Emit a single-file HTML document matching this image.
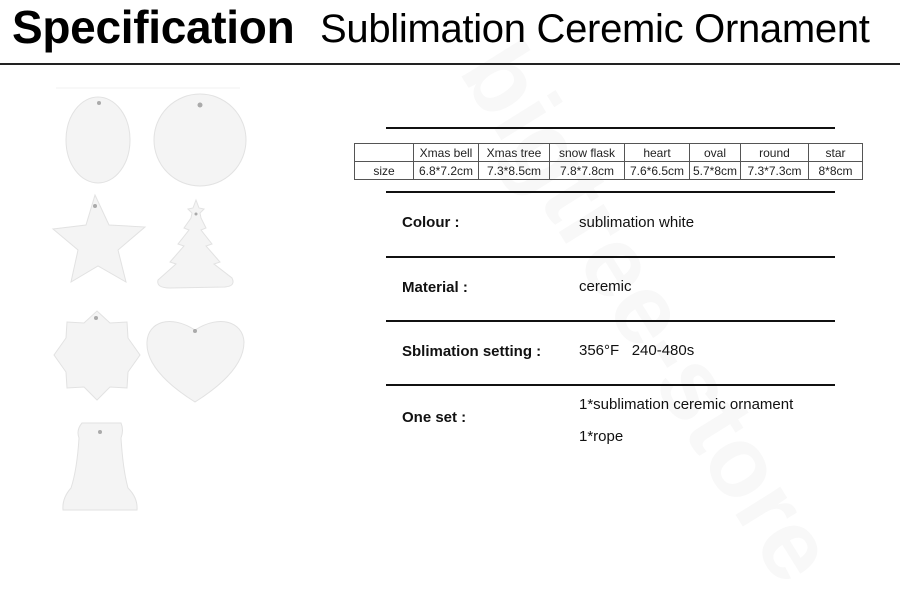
<!DOCTYPE html>
<html><head><meta charset="utf-8"><style>
body{margin:0;width:900px;height:610px;background:#fff;overflow:hidden;position:relative;font-family:"Liberation Sans",sans-serif}
.a{position:absolute;white-space:nowrap}
.t{font-size:15px;color:#111}
.b{font-weight:bold}
table{position:absolute;left:354px;top:143px;border-collapse:collapse;font-size:12px;color:#222}
td{border:1px solid #555;height:17px;padding:0;text-align:center}
.hr{position:absolute;left:386px;width:449px;height:2px;background:#111}
</style></head><body>
<svg class="a" style="left:0;top:0" width="900" height="610">
<text x="620" y="330" transform="rotate(58 620 330)" text-anchor="middle" font-family="Liberation Sans" font-weight="bold" font-size="100" fill="#f8f8f8">bigtree-store</text>
<g fill="#f4f4f4" stroke="#e2e2e2" stroke-width="1">
<ellipse cx="98" cy="140" rx="32" ry="43"/>
<circle cx="200" cy="140" r="46"/>
<polygon points="95,195 109,225 145,227 118,250 126,282 98,266 71,282 78,250 53,229 86,225"/>
<path d="M196,200 L199,208 204,209 200,213 201,218 L206,228 201,230 L212,244 206,246 L220,262 214,264 L232,278 Q236,286 225,287 L170,288 Q156,288 158,280 L176,264 170,262 L184,246 178,244 L189,230 184,228 L191,218 192,213 188,209 193,208 Z"/>
<path d="M97,311 L110,323 127,322 128,338 140,355 128,372 127,388 110,387 97,400 84,387 67,388 66,372 54,355 66,338 67,322 84,323 Z"/>
<path d="M195,402 C160,380 146,360 147,342 C148,322 170,314 195,330 C220,314 243,322 244,342 C244,360 230,380 195,402 Z"/>
<path d="M82,423 L121,423 Q124,430 121,438 Q123,470 128,488 Q138,498 137,510 L63,510 Q62,498 71,488 Q77,470 79,438 Q76,430 82,423 Z"/>
</g>
<g fill="#aaa"><circle cx="99" cy="103" r="2"/><circle cx="200" cy="105" r="2.5"/><circle cx="95" cy="206" r="2"/><circle cx="196" cy="214" r="1.5"/><circle cx="96" cy="318" r="2"/><circle cx="195" cy="331" r="2"/><circle cx="100" cy="432" r="2"/></g>
<line x1="56" y1="88" x2="240" y2="88" stroke="#f0f0f0"/>
</svg>
<div class="a b" style="left:12px;top:0px;font-size:46px;letter-spacing:-0.3px">Specification</div>
<div class="a" style="left:320px;top:7px;font-size:40px;letter-spacing:-0.3px">Sublimation Ceremic Ornament</div>
<div class="a" style="left:0;top:63px;width:900px;height:2px;background:#222"></div>
<div class="hr" style="top:127px"></div>
<table>
<tr><td style="width:58px"></td><td style="width:64px">Xmas bell</td><td style="width:70px">Xmas tree</td><td style="width:74px">snow flask</td><td style="width:64px">heart</td><td style="width:50px">oval</td><td style="width:67px">round</td><td style="width:53px">star</td></tr>
<tr><td>size</td><td>6.8*7.2cm</td><td>7.3*8.5cm</td><td>7.8*7.8cm</td><td>7.6*6.5cm</td><td>5.7*8cm</td><td>7.3*7.3cm</td><td>8*8cm</td></tr>
</table>
<div class="hr" style="top:191px"></div>
<div class="hr" style="top:256px"></div>
<div class="hr" style="top:320px"></div>
<div class="hr" style="top:384px"></div>
<div class="a t b" style="left:402px;top:214px">Colour :</div>
<div class="a t" style="left:579px;top:214px">sublimation white</div>
<div class="a t b" style="left:402px;top:279px">Material :</div>
<div class="a t" style="left:579px;top:278px">ceremic</div>
<div class="a t b" style="left:402px;top:343px">Sblimation setting :</div>
<div class="a t" style="left:579px;top:342px">356°F &nbsp;&nbsp;240-480s</div>
<div class="a t b" style="left:402px;top:409px">One set :</div>
<div class="a t" style="left:579px;top:396px">1*sublimation ceremic ornament</div>
<div class="a t" style="left:579px;top:428px">1*rope</div>
</body></html>
